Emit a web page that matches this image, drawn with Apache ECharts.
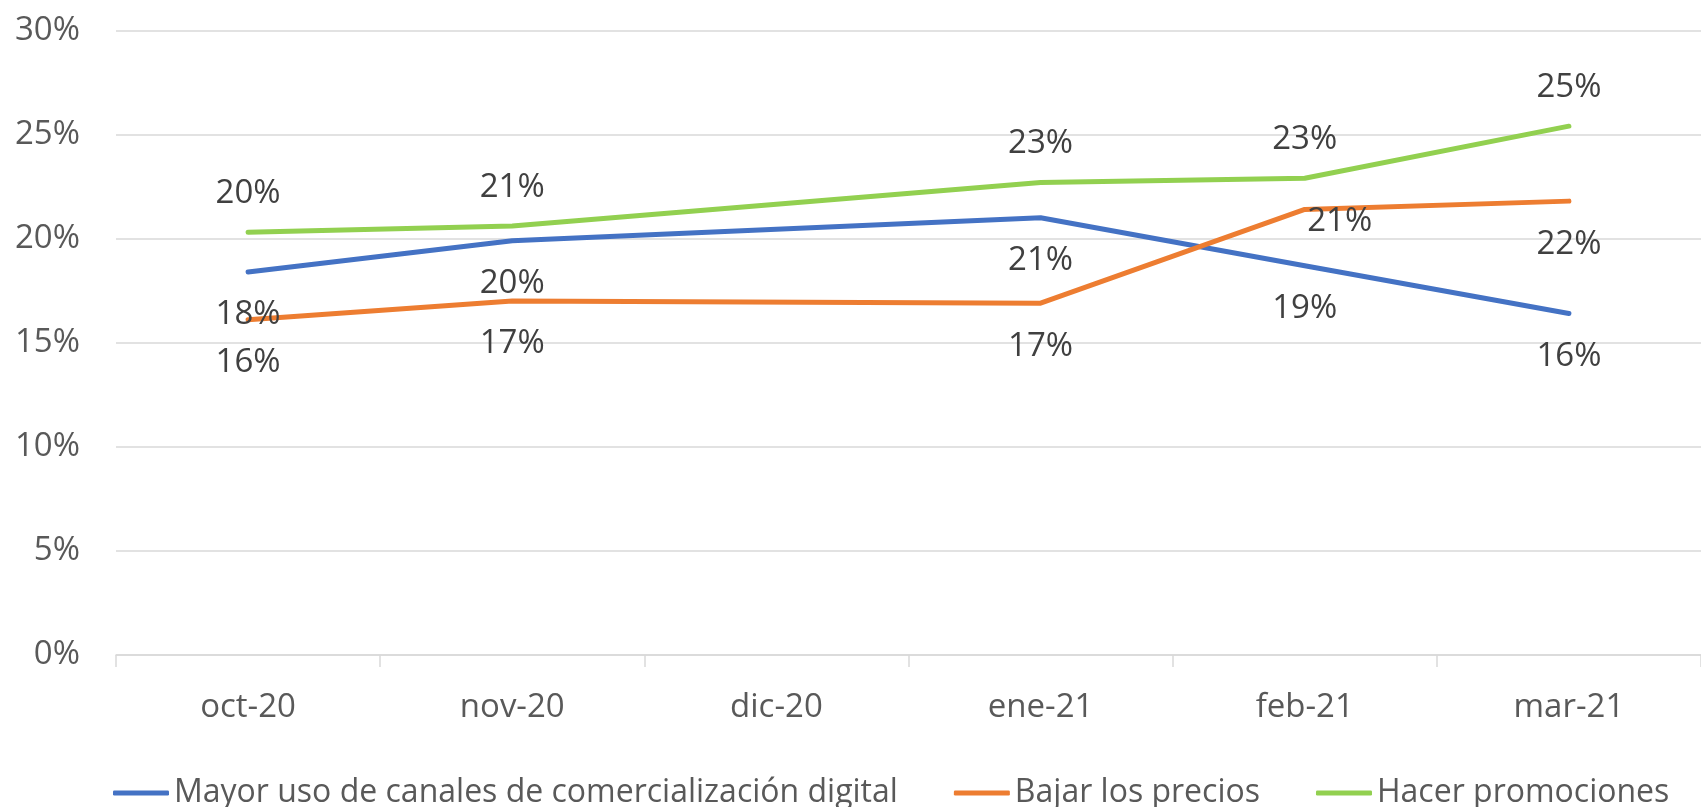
<!DOCTYPE html>
<html>
<head>
<meta charset="utf-8">
<script src="https://cdn.jsdelivr.net/npm/echarts@6/dist/echarts.min.js"></script>
<style>
  html, body { margin: 0; padding: 0; background: #fff; }
  #chart { width: 1701px; height: 807px; }
</style>
</head>
<body>
<div id="chart"></div>
<script>
const months = ["oct-20", "nov-20", "dic-20", "ene-21", "feb-21", "mar-21"];
const seriesNames = [
  "Mayor uso de canales de comercialización digital",
  "Bajar los precios",
  "Hacer promociones",
];
// values in %, dic-20 has no data
const digitalValues = [18.4, 19.9, null, 21.0, 18.7, 16.4];
const priceValues = [16.1, 17.0, null, 16.9, 21.4, 21.8];
const promoValues = [20.3, 20.6, null, 22.7, 22.9, 25.4];
const yTicks = [0, 5, 10, 15, 20, 25, 30];

const FONT = "Open Sans";
const FS = 33;
const colors = ["#4472C4", "#ED7D31", "#92D050"];

function makeLine(name, data, color, labelPos) {
  return {
    name,
    type: "line",
    data,
    connectNulls: true,
    symbol: "circle",
    symbolSize: 1,
    showSymbol: true,
    lineStyle: { color, width: 5, cap: "round", join: "round" },
    itemStyle: { color },
    label: {
      show: true,
      position: labelPos,
      distance: labelPos === "top" ? 22 : 26,
      formatter: (p) => Math.round(p.value) + "%",
      color: "#404040",
      fontFamily: FONT,
      fontSize: FS,
    },
  };
}

const chart = echarts.init(document.getElementById("chart"));

// the feb-21 label of "Bajar los precios" sits to the right of its point
const priceData = priceValues.map((v, i) =>
  i === 4 ? { value: v, label: { position: "right", distance: 2, offset: [0, 12] } } : v
);

chart.setOption({
  animation: false,
  color: colors,
  grid: { left: 116, top: 30.4, width: 1596, bottom: 152, containLabel: false },
  xAxis: {
    type: "category",
    data: months,
    boundaryGap: true,
    axisLine: { lineStyle: { color: "#d9d9d9", width: 1.5 } },
    axisTick: { show: true, length: 12, lineStyle: { color: "#d9d9d9", width: 1.5 } },
    axisLabel: { color: "#595959", fontFamily: FONT, fontSize: FS, margin: 36 },
  },
  yAxis: {
    type: "value",
    min: yTicks[0],
    max: yTicks[yTicks.length - 1],
    interval: 5,
    axisLine: { show: false },
    axisTick: { show: false },
    splitLine: { lineStyle: { color: "#d9d9d9", width: 1.5 } },
    axisLabel: {
      formatter: "{value}%",
      color: "#595959",
      fontFamily: FONT,
      fontSize: FS,
      margin: 36,
    },
  },
  legend: {
    left: 108,
    top: 772,
    icon: "roundRect",
    itemWidth: 56,
    itemHeight: 5,
    itemGap: 56,
    textStyle: { color: "#595959", fontFamily: FONT, fontSize: 32 },
    data: seriesNames,
  },
  series: [
    makeLine(seriesNames[0], digitalValues, colors[0], "bottom"),
    makeLine(seriesNames[1], priceData, colors[1], "bottom"),
    makeLine(seriesNames[2], promoValues, colors[2], "top"),
  ],
});
</script>
</body>
</html>
